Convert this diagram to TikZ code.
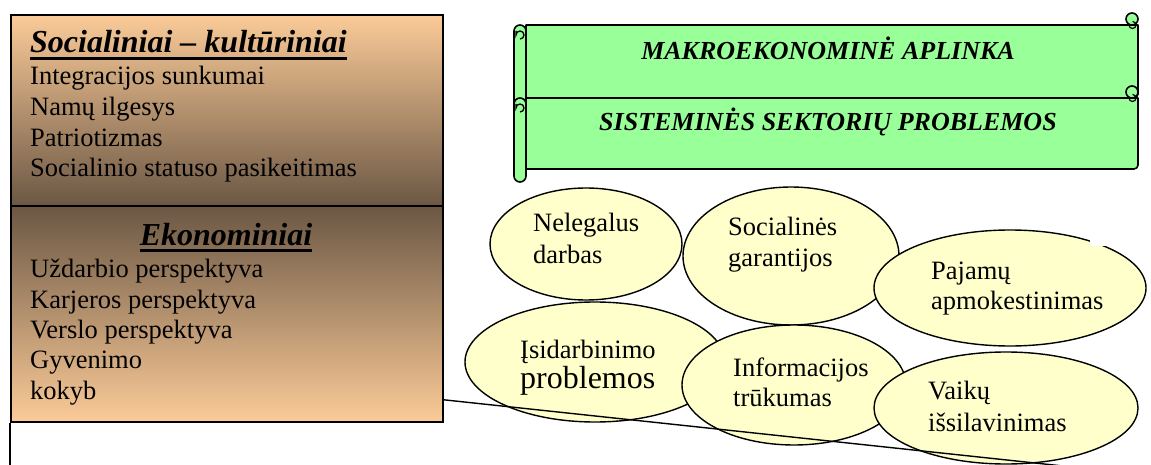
\documentclass[tikz,border=0pt]{standalone}
\usepackage{fontspec}
\setmainfont{Liberation Serif}
\usetikzlibrary{shapes.geometric}

\definecolor{peach}{HTML}{FBCB98}
\definecolor{umber}{HTML}{6B5744}
\definecolor{scrollgreen}{HTML}{99FF99}
\definecolor{bubblefill}{HTML}{FFFFCC}

% heavy underline for the section headings
\newsavebox\ulinebox
\newcommand\thickuline[1]{\sbox\ulinebox{#1}\rlap{\rule[-7pt]{\wd\ulinebox}{3pt}}\usebox\ulinebox}

% a horizontal scroll banner: #1 = top edge, #2 = bottom edge
\newcommand\drawscroll[2]{%
  \draw[scrollline] (526,#1) -- (1138,#1) -- (1138,#2-4)
    arc[start angle=0,end angle=90,radius=4] -- (526,#2) -- cycle;
  \draw[scrollline] (1132,#1-6) circle[radius=6];
  \draw[line width=1.2pt] (1129,#1) arc[start angle=180,end angle=-90,radius=3.5];
  \draw[scrollline] (514,#1+6) arc[start angle=180,end angle=360,radius=6]
    -- (526,#2+7) arc[start angle=0,end angle=180,radius=6] -- cycle;
  \draw[line width=1.3pt] (520,#1+14) arc[start angle=90,end angle=-180,radius=4]
    -- (516,#1+6);
}

\begin{document}
\begin{tikzpicture}[x=1pt,y=-1pt,
  bodytext/.style={font=\fontsize{26.5}{30.7}\selectfont, anchor=base west, inner sep=0pt},
  bigtext/.style={font=\fontsize{32}{36}\selectfont, anchor=base west, inner sep=0pt},
  heading/.style={font=\fontsize{32}{36}\selectfont\bfseries\itshape, inner sep=0pt},
  bannertext/.style={font=\fontsize{26}{30}\selectfont\bfseries\itshape, anchor=base, inner sep=0pt},
  panel/.style={rectangle, draw=black, line width=1.8pt, anchor=north west, inner sep=0pt},
  bubble/.style={ellipse, draw=black, line width=1.4pt, fill=bubblefill, inner sep=0pt},
  scrollline/.style={draw=black, line width=1.6pt, fill=scrollgreen, line join=round},
  wire/.style={draw=black, line width=1.4pt}]
\useasboundingbox (0,0) rectangle (1151,465);
\clip (0,0) rectangle (1151,465);

% left panel with its two shaded sections
\node[panel, minimum width=432pt, minimum height=191pt, top color=peach, bottom color=umber] (soc) at (10,14) {};
\node[panel, minimum width=432pt, minimum height=216pt, top color=umber, bottom color=peach] (eco) at (10,205) {};
\coordinate (lowleft) at (10,465);
\draw[wire] (eco.south west) -- (lowleft);

\node[heading, anchor=base west] (socT) at (30,53) {\thickuline{Socialiniai – kultūriniai}};
\node[bodytext] (s1) at (30,85) {Integracijos sunkumai};
\node[bodytext] (s2) at (30,115.5) {Namų ilgesys};
\node[bodytext] (s3) at (30,146.5) {Patriotizmas};
\node[bodytext] (s4) at (30,177) {Socialinio statuso pasikeitimas};

\node[heading, anchor=base] (ecoT) at (226,245.5) {\thickuline{Ekonominiai}};
\node[bodytext] (e1) at (30,277.5) {Uždarbio perspektyva};
\node[bodytext] (e2) at (30,308) {Karjeros perspektyva};
\node[bodytext] (e3) at (30,338.5) {Verslo perspektyva};
\node[bodytext] (e4) at (30,368.5) {Gyvenimo};
\node[bodytext] (e5) at (30,399) {kokyb};

% banners
\drawscroll{25}{98}
\drawscroll{98}{169}
\node[bannertext] (macro) at (828,60) {MAKROEKONOMINĖ APLINKA};
\node[bannertext] (sys) at (828,131) {SISTEMINĖS SEKTORIŲ PROBLEMOS};

% problem bubbles
\node[bubble, minimum width=192pt, minimum height=112pt] (nel) at (586,244) {};
\node[bubble, minimum width=216pt, minimum height=138pt] (soc2) at (791,256) {};
\node[bubble, minimum width=272pt, minimum height=116pt] (paj) at (1010,288) {};
\node[bubble, minimum width=260pt, minimum height=120pt] (isi) at (595,362) {};
\node[bubble, minimum width=224pt, minimum height=120pt] (inf) at (794,385) {};
\node[bubble, minimum width=264pt, minimum height=112pt] (vai) at (1006,408) {};
\fill[white] (1090,234) rectangle (1116,246);

\coordinate (tail) at (1063,466);
\draw[wire] ([yshift=23pt]eco.south east) -- (tail);

\node[bodytext] (n1) at (533,232) {Nelegalus};
\node[bodytext] (n2) at (533,263) {darbas};
\node[bodytext] (g1) at (728,236) {Socialinės};
\node[bodytext] (g2) at (728,266) {garantijos};
\node[bodytext] (p1) at (931,279) {Pajamų};
\node[bodytext] (p2) at (931,309) {apmokestinimas};
\node[bodytext] (i1) at (520,358) {Įsidarbinimo};
\node[bigtext] (i2) at (520,388) {problemos};
\node[bodytext] (f1) at (733,376) {Informacijos};
\node[bodytext] (f2) at (733,406) {trūkumas};
\node[bodytext] (v1) at (928,399) {Vaikų};
\node[bodytext] (v2) at (928,431) {išsilavinimas};
\end{tikzpicture}
\end{document}
